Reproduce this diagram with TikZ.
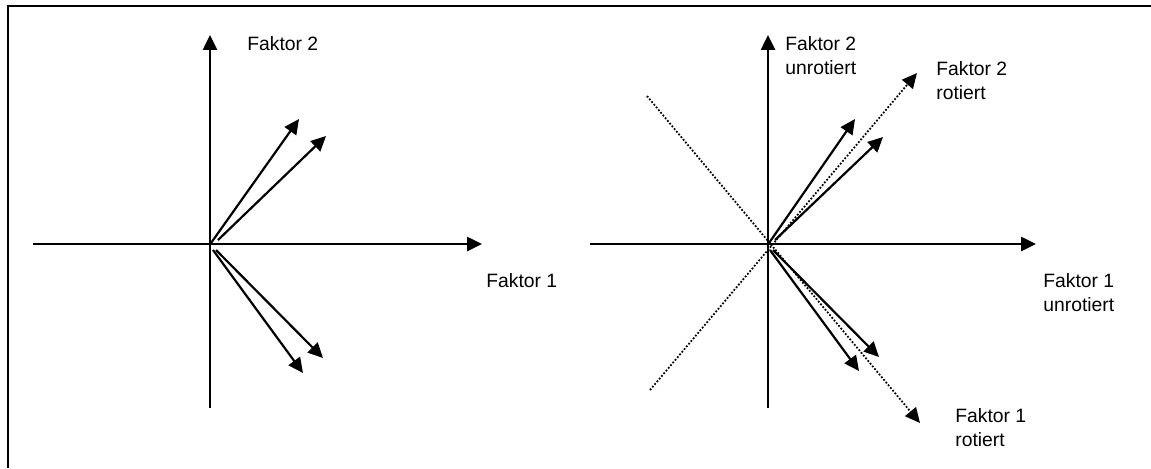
\documentclass[tikz,border=0pt]{standalone}
\usepackage{fontspec}
\setmainfont{Liberation Sans}
\usetikzlibrary{arrows.meta}
\begin{document}
\begin{tikzpicture}[x=0.02cm, y=-0.02cm,
  tip/.style={-{Triangle[length=8.5pt,width=8pt]}},
  axis/.style={line width=1.25pt},
  vec/.style={line width=1.25pt, tip},
  rot/.style={line width=1pt, dash pattern=on 1pt off 1pt},
  lbl/.style={anchor=north west, inner sep=0pt, align=left, font=\fontsize{11}{13.5}\selectfont}]
\useasboundingbox (0,0) rectangle (1151,468);
\draw[line width=1.6pt] (8,468) -- (8,6) -- (1151,6);

% left: unrotated solution
\coordinate (l0) at (210,244);
\coordinate (lxa) at (33,244);
\coordinate (lxb) at (482,244);
\coordinate (lya) at (210,408);
\coordinate (lyb) at (210,35);
\draw[axis, tip] (lxa) -- (lxb);
\draw[axis, tip] (lya) -- (lyb);
\node[lbl] (lf2) at (247,36) {Faktor 2};
\node[lbl] (lf1) at (486,273) {Faktor 1};

\coordinate (la1) at (211,243); \coordinate (lb1) at (299,119);
\coordinate (la2) at (218,240); \coordinate (lb2) at (326,136);
\coordinate (la3) at (216,250); \coordinate (lb3) at (323,358);
\coordinate (la4) at (213,250); \coordinate (lb4) at (303,373);
\draw[vec] (la1) -- (lb1);
\draw[vec] (la2) -- (lb2);
\draw[vec] (la3) -- (lb3);
\draw[vec] (la4) -- (lb4);

% right: rotated solution
\coordinate (r0) at (768,244);
\coordinate (rxa) at (590,244);
\coordinate (rxb) at (1036,244);
\coordinate (rya) at (768,408);
\coordinate (ryb) at (768,35);
\draw[axis, tip] (rxa) -- (rxb);
\draw[axis, tip] (rya) -- (ryb);
\node[lbl] (rf2) at (785,36) {Faktor 2\\unrotiert};
\node[lbl] (rf1) at (1043,273) {Faktor 1\\unrotiert};
\node[lbl] (sf2) at (936,61) {Faktor 2\\rotiert};
\node[lbl] (sf1) at (955,408) {Faktor 1\\rotiert};

\coordinate (ra) at (647,96);  \coordinate (rb) at (920,423);
\coordinate (rc) at (650,390); \coordinate (rd) at (917,73);
\draw[rot, tip] (ra) -- (rb);
\draw[rot, tip] (rc) -- (rd);

\coordinate (ra1) at (769,243); \coordinate (rb1) at (855,119);
\coordinate (ra2) at (775,240); \coordinate (rb2) at (883,137);
\coordinate (ra3) at (773,250); \coordinate (rb3) at (879,357);
\coordinate (ra4) at (770,250); \coordinate (rb4) at (859,371);
\draw[vec] (ra1) -- (rb1);
\draw[vec] (ra2) -- (rb2);
\draw[vec] (ra3) -- (rb3);
\draw[vec] (ra4) -- (rb4);
\end{tikzpicture}
\end{document}
